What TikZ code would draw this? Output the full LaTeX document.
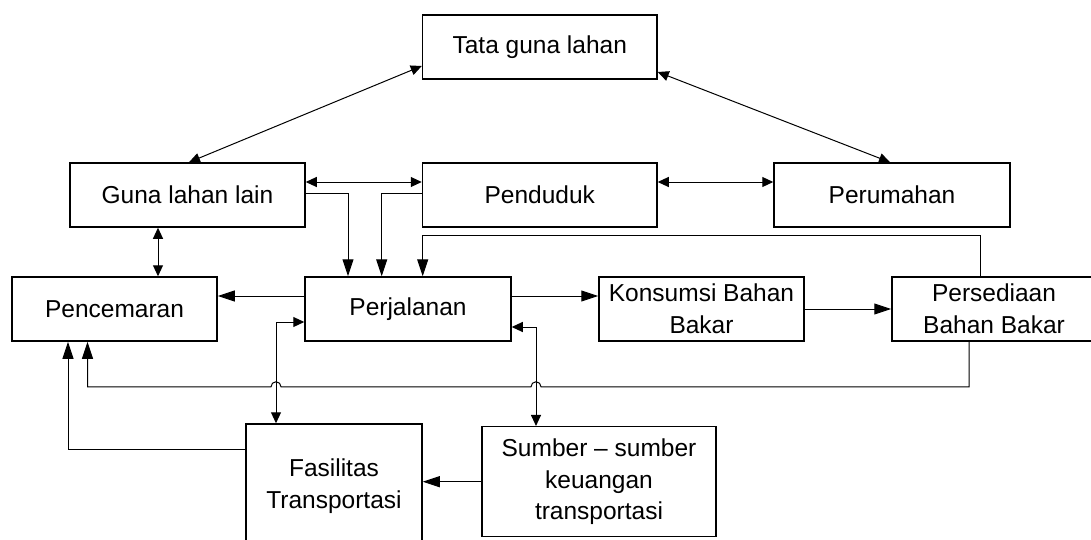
\documentclass[tikz,border=0pt]{standalone}
\usepackage{fontspec}
\setmainfont{Liberation Sans}
\usetikzlibrary{arrows.meta}
\begin{document}
\begin{tikzpicture}[x=1pt,y=-1pt,
  box/.style={draw, line width=1.5pt, fill=white, inner sep=0pt, align=center,
    minimum height=64pt, font=\fontsize{24.5}{31.7}\selectfont},
  link/.style={line width=1pt},
  big/.style={link, -{Triangle[length=17pt,width=11pt]}},
  small/.style={link, -{Triangle[length=11pt,width=10pt]}},
  both/.style={link, {Triangle[length=11pt,width=10pt]}-{Triangle[length=11pt,width=10pt]}},
]
\useasboundingbox (0,0) rectangle (1091,540);
\fill[white] (0,0) rectangle (1091,540);
\clip (0,0) rectangle (1091,540);

% boxes
\node[box, minimum width=234.5pt] (tata) at (539.75,47) {Tata guna lahan};
\node[box, minimum width=235pt] (guna) at (187.5,195) {Guna lahan lain};
\node[box, minimum width=234.5pt] (pend) at (539.75,195) {Penduduk};
\node[box, minimum width=236pt] (perum) at (892,195) {Perumahan};
\node[box, minimum width=205pt] (penc) at (114.5,309) {Pencemaran};
\node[box, minimum width=206pt] (perj) at (408,309) {Perjalanan};
\node[box, minimum width=205pt] (kons) at (701.5,309) {Konsumsi Bahan\\Bakar};
\node[box, minimum width=204pt] (pers) at (994,309) {Persediaan\\Bahan Bakar};
\node[box, minimum width=176pt, minimum height=124pt] (fas) at (334,486) {Fasilitas\\Transportasi};
\node[box, minimum width=234pt, minimum height=110pt] (sumb) at (599,481.7) {Sumber -- sumber\\keuangan\\transportasi};

% land use links
\draw[both] ([yshift=-19pt]tata.west) -- ([xshift=1.5pt]guna.north);
\draw[both] ([yshift=-25pt]tata.east) -- ([xshift=-2pt]perum.north);
\draw[both] ([yshift=13pt]guna.east) -- ([yshift=13pt]pend.west);
\draw[both] ([yshift=13pt]pend.east) -- ([yshift=13pt]perum.west);
\draw[both] ([xshift=-29.5pt]guna.south) -- ([xshift=43.5pt]penc.north);

% trip generation
\draw[big] ([yshift=2pt]guna.east) -| ([xshift=-60pt]perj.north);
\draw[big] ([yshift=2pt]pend.west) -| ([xshift=-26.3pt]perj.north);
\draw[big] ([xshift=-14pt]pers.north) -- ++(0,-41) -| ([xshift=14.7pt]perj.north);

% trips, fuel and pollution
\draw[big] ([yshift=13pt]perj.west) -- ([yshift=13pt]penc.east);
\draw[big] ([yshift=13pt]perj.east) -- ([yshift=13pt]kons.west);
\draw[big] (kons.east) -- (pers.west);

% transport facilities and funding
\draw[both] ([yshift=-13pt]perj.west) -| ([xshift=-58pt]fas.north);
\draw[both] ([yshift=-18pt]perj.east) -| ([xshift=-63pt]sumb.north);
\draw[big] (sumb.west) -- (sumb.west -| fas.east);
\draw[big] ([yshift=37pt]fas.west) -| ([xshift=-46.5pt]penc.south);

% fuel stock back to pollution, hopping over the two vertical links
\draw[big] ([xshift=-25pt]pers.south) -- ++(0,45) -- ++(-428,0)
  arc[start angle=0, end angle=180, radius=5pt] -- ++(-250,0)
  arc[start angle=0, end angle=180, radius=5pt] -| ([xshift=-27pt]penc.south);
\end{tikzpicture}
\end{document}
